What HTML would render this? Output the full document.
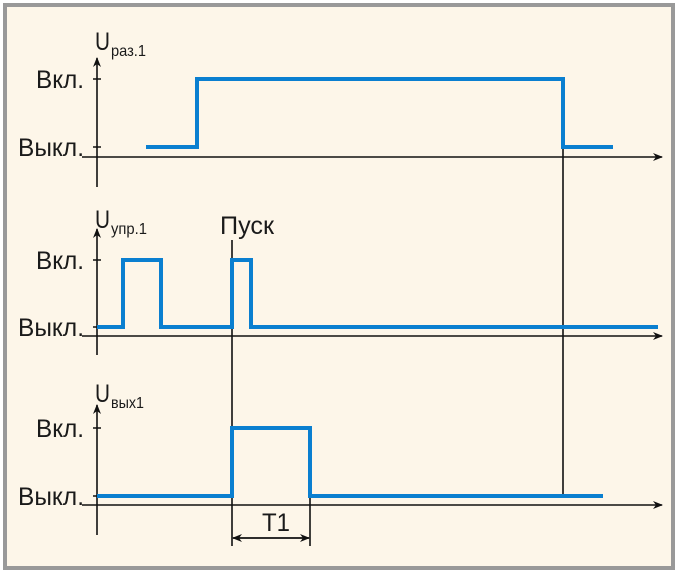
<!DOCTYPE html><html><head><meta charset="utf-8"><style>body{margin:0;background:#fff}svg{display:block}text{font-family:"Liberation Sans",sans-serif;fill:#1a1a1a}</style></head><body>
<svg width="678" height="573" viewBox="0 0 678 573">
<rect x="0" y="0" width="678" height="573" fill="#fff"/>
<rect x="5" y="5" width="668" height="563" fill="#fdf6e9" stroke="#999" stroke-width="4"/>
<defs><marker id="a" markerWidth="10" markerHeight="8" refX="9" refY="4" orient="auto" markerUnits="userSpaceOnUse"><path d="M0,0 L10,4 L0,8 L3,4z" fill="#111"/></marker></defs>
<g stroke="#111" stroke-width="1.6" fill="none">
<line x1="97" y1="187" x2="97" y2="58" marker-end="url(#a)"/>
<line x1="82" y1="157" x2="662" y2="157" marker-end="url(#a)"/>
<line x1="97" y1="355" x2="97" y2="229" marker-end="url(#a)"/>
<line x1="82" y1="336" x2="662" y2="336" marker-end="url(#a)"/>
<line x1="97" y1="535" x2="97" y2="405" marker-end="url(#a)"/>
<line x1="82" y1="505" x2="662" y2="505" marker-end="url(#a)"/>
<path d="M93 79h8M93 147h8M93 260h8M93 327h8M93 428h8M93 496h8"/>
<line x1="232" y1="240" x2="232" y2="546"/>
<line x1="563" y1="147" x2="563" y2="496"/>
<line x1="310" y1="496" x2="310" y2="546"/>
<line x1="233" y1="538" x2="309" y2="538" marker-end="url(#a)"/>
<line x1="309" y1="538" x2="233" y2="538" marker-end="url(#a)"/>
</g>
<g stroke="#0a7fd0" stroke-width="4" fill="none">
<path d="M146 147H197V79H563V147H613"/>
<path d="M97 327H123V260H161V327H232V260H251V327H658"/>
<path d="M97 496H232V428H310V496H603"/>
</g>
<g font-size="25" lengthAdjust="spacingAndGlyphs">
<text x="36" y="88" textLength="48" lengthAdjust="spacingAndGlyphs">Вкл.</text>
<text x="18" y="156" textLength="66" lengthAdjust="spacingAndGlyphs">Выкл.</text>
<text x="36" y="269" textLength="48" lengthAdjust="spacingAndGlyphs">Вкл.</text>
<text x="18" y="336" textLength="66" lengthAdjust="spacingAndGlyphs">Выкл.</text>
<text x="36" y="437" textLength="48" lengthAdjust="spacingAndGlyphs">Вкл.</text>
<text x="18" y="505" textLength="66" lengthAdjust="spacingAndGlyphs">Выкл.</text>
<text x="95" y="50" textLength="15" lengthAdjust="spacingAndGlyphs">U</text>
<text x="111" y="56" font-size="16" textLength="35" lengthAdjust="spacingAndGlyphs">раз.1</text>
<text x="95" y="228" textLength="15" lengthAdjust="spacingAndGlyphs">U</text>
<text x="111" y="234" font-size="16" textLength="36" lengthAdjust="spacingAndGlyphs">упр.1</text>
<text x="95" y="402" textLength="15" lengthAdjust="spacingAndGlyphs">U</text>
<text x="111" y="408" font-size="16" textLength="33" lengthAdjust="spacingAndGlyphs">вых1</text>
<text x="220" y="234" textLength="54" lengthAdjust="spacingAndGlyphs">Пуск</text>
<text x="262" y="531" textLength="28" lengthAdjust="spacingAndGlyphs">T1</text>
</g>
</svg></body></html>
